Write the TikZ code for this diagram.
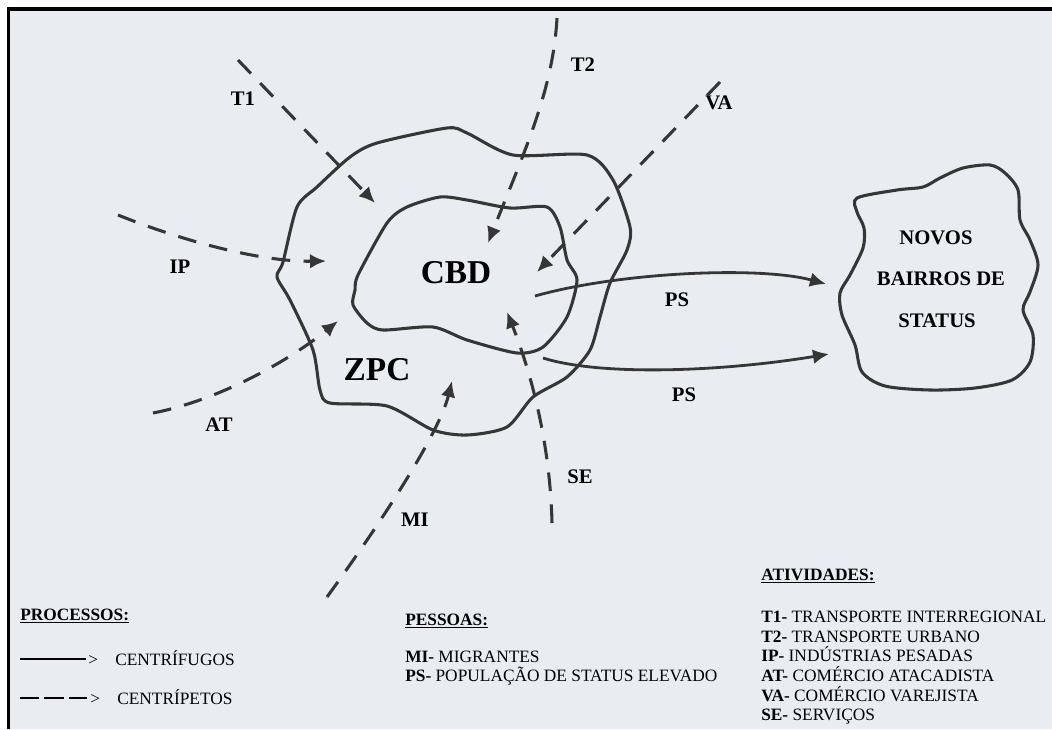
\documentclass[tikz,border=0pt]{standalone}
\usepackage{fontspec}
\setmainfont{Liberation Serif}
\usetikzlibrary{arrows.meta}
\definecolor{paper}{HTML}{E9EDF1}
\definecolor{ink}{HTML}{363636}
\newcommand\lgdfont{\fontsize{13}{15}\selectfont}
\newcommand\lblfont{\fontsize{15.5}{15.5}\selectfont\bfseries}
\newcommand\bigfont{\fontsize{25}{25}\selectfont\bfseries}
\begin{document}
\begin{tikzpicture}[x=0.75pt,y=-0.75pt,
  blob/.style={draw=ink, line width=2.3pt, line join=round},
  centri/.style={draw=ink, line width=2.3pt, dash pattern=on 14pt off 10pt,
     -{Latex[length=12pt,width=11pt]}},
  centrif/.style={draw=ink, line width=2.1pt, -{Latex[length=12pt,width=11pt]}},
  lbl/.style={font=\lblfont, text=black, inner sep=0pt},
  big/.style={font=\bigfont, text=black, inner sep=0pt},
  lgd/.style={font=\lgdfont, text=black, anchor=base west, inner sep=0pt},
  ]
\useasboundingbox (0,0) rectangle (1052,729);
\fill[white] (0,0) rectangle (1052,729);
\fill[paper] (8.5,9) rectangle (1052,729);
\draw[black, line width=2.4pt] (8.5,729) -- (8.5,9) -- (1052,9);

% ZPC outer blob
\draw[blob] plot[smooth cycle, tension=0.45] coordinates {(283,262) (297,207) (317,187) (350,157) (377,143) (447,128) (467,133) (513,155) (587,155) (613,180) (630,227) (627,250) (610,283) (600,317) (590,350) (567,377) (533,397) (507,427) (467,435) (433,430) (387,406) (330,403) (320,390) (313,350) (290,300) (277,277)};
% CBD inner blob
\draw[blob] plot[smooth cycle, tension=0.45] coordinates {(355,290) (358,275) (387,223) (407,207) (440,197) (467,200) (510,208) (547,207) (560,227) (567,260) (577,280) (567,317) (543,347) (517,353) (467,340) (433,327) (383,330) (367,323) (353,305)};
% Novos bairros blob
\draw[blob] plot[smooth cycle, tension=0.5] coordinates {(857,198) (897,190) (923,187) (940,178) (963,168) (990,165) (1005,173) (1018,190) (1020,220) (1030,240) (1038,265) (1030,292) (1023,310) (1033,335) (1030,362) (1012,380) (975,388) (930,390) (885,386) (862,372) (855,345) (842,315) (840,293) (850,275) (863,248) (864,228) (857,212)};

% labels
\node[big] (cbd) at (456,273) {CBD};
\node[big] (zpc) at (377,370) {ZPC};
\node[lbl] (lt1) at (243,99) {T1};
\node[lbl] (lt2) at (583,65) {T2};
\node[lbl] (lva) at (719,103) {VA};
\node[lbl] (lip) at (180,267) {IP};
\node[lbl] (lat) at (219,425) {AT};
\node[lbl] (lmi) at (415,520) {MI};
\node[lbl] (lse) at (580,477) {SE};
\node[lbl] (lps1) at (677,300) {PS};
\node[lbl] (lps2) at (684,395) {PS};
\node[lbl] (nv1) at (936,238) {NOVOS};
\node[lbl] (nv2) at (941,279) {BAIRROS DE};
\node[lbl] (nv3) at (937,321) {STATUS};

% endpoints
\coordinate (t1s) at (238,60);   \coordinate (t1e) at (375,203);
\coordinate (t2s) at (557,18);   \coordinate (t2e) at (488,243);
\coordinate (vas) at (720,82);   \coordinate (vae) at (537,272);
\coordinate (ips) at (118,215);  \coordinate (ipe) at (326,261);
\coordinate (ats) at (153,413);  \coordinate (ate) at (338,321);
\coordinate (mis) at (327,597);  \coordinate (mie) at (452,381);
\coordinate (ses) at (552,523);  \coordinate (see) at (507,312);
\coordinate (p1s) at (535,296);  \coordinate (p1e) at (826,284);
\coordinate (p2s) at (543,358);  \coordinate (p2e) at (829,354);

% centripetal (dashed)
\draw[centri] (t1s) -- (t1e);
\draw[centri] (t2s) .. controls (553,90) and (525,150) .. (t2e);
\draw[centri] (vas) -- (vae);
\draw[centri] (ips) .. controls (180,240) and (260,262) .. (ipe);
\draw[centri] (ats) .. controls (220,400) and (290,360) .. (ate);
\draw[centri] (mis) .. controls (390,510) and (440,430) .. (mie);
\draw[centri] (ses) .. controls (550,440) and (530,370) .. (see);
% centrifugal (solid)
\draw[centrif] (p1s) .. controls (620,272) and (760,266) .. (p1e);
\draw[centrif] (p2s) .. controls (600,376) and (720,372) .. (p2e);

% legend: processos
\node[lgd] (proc) at (20,620) {\textbf{\underline{PROCESSOS:}}};
\coordinate (cf1) at (20,659); \coordinate (cf2) at (86,659);
\draw[black, line width=1pt] (cf1) -- (cf2);
\node[lgd] (cfa) at (88,665) {>};
\node[lgd] (cft) at (115,665) {CENTRÍFUGOS};
\coordinate (cp1) at (20,698); \coordinate (cp2) at (87,698);
\draw[black, line width=1pt, dash pattern=on 14.5pt off 3.8pt] (cp1) -- (cp2);
\node[lgd] (cpa) at (90,704) {>};
\node[lgd] (cpt) at (117,704) {CENTRÍPETOS};

% legend: pessoas
\node[lgd] (pes) at (405,625) {\textbf{\underline{PESSOAS:}}};
\node[lgd] (pmi) at (405,662) {\textbf{MI-} MIGRANTES};
\node[lgd] (pps) at (405,681) {\textbf{PS-} POPULAÇÃO DE STATUS ELEVADO};

% legend: atividades
\node[lgd] (ati) at (761,580) {\textbf{\underline{ATIVIDADES:}}};
\node[lgd] (a1) at (761,622) {\textbf{T1-} TRANSPORTE INTERREGIONAL};
\node[lgd] (a2) at (761,642) {\textbf{T2-} TRANSPORTE URBANO};
\node[lgd] (a3) at (761,661) {\textbf{IP-} INDÚSTRIAS PESADAS};
\node[lgd] (a4) at (761,681) {\textbf{AT-} COMÉRCIO ATACADISTA};
\node[lgd] (a5) at (761,701) {\textbf{VA-} COMÉRCIO VAREJISTA};
\node[lgd] (a6) at (761,720) {\textbf{SE-} SERVIÇOS};
\end{tikzpicture}
\end{document}
